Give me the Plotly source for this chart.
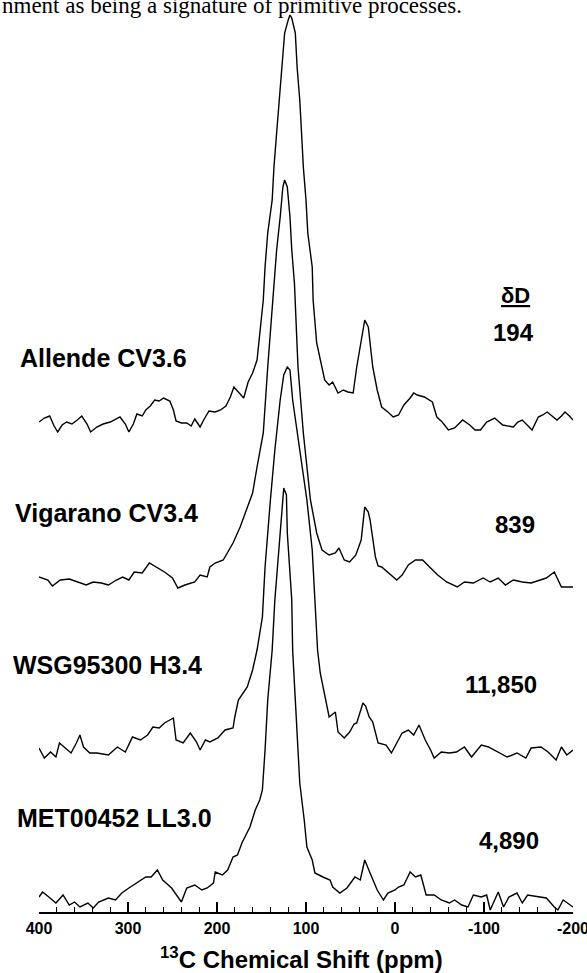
import plotly.graph_objects as go

# 13C NMR spectra (ppm, intensity in arbitrary units relative to each baseline)
ALLENDE = [(400,3),(394,7),(388,9),(383,-1),(379,-7),(374,0),(369,3),(363,1),(357,5),(352,9),(346,1),(342,-7),(335,-2),(328,1),(320,3),(315,5),(309,8),(303,1),(299,-7),(294,1),(290,11),(284,9),(280,15),(275,19),(270,25),(265,24),(260,27),(253,24),(249,15),(246,4),(240,2),(234,2),(229,-1),(225,6),(219,-2),(215,5),(209,14),(202,13),(196,15),(190,19),(185,28),(181,38),(178,35),(173,31),(170,27),(165,43),(160,52),(155,65),(152,92),(148,125),(146,158),(143,192),(138,225),(136,258),(133,292),(130,325),(127,358),(124,392),(120,405),(118,410),(116,407),(112,392),(110,358),(107,325),(105,292),(103,258),(100,225),(98,192),(93,158),(92,125),(88,82),(82,58),(79,45),(74,40),(70,43),(64,32),(58,35),(53,33),(47,32),(43,58),(39,80),(37,92),(34,105),(30,98),(28,80),(25,58),(20,35),(15,18),(8,13),(2,8),(-4,10),(-10,20),(-17,27),(-21,32),(-25,30),(-33,28),(-42,23),(-47,8),(-53,3),(-60,-5),(-67,-3),(-76,5),(-84,0),(-90,-5),(-96,-5),(-103,3),(-112,7),(-121,0),(-133,-2),(-138,3),(-143,5),(-148,0),(-154,-5),(-161,8),(-166,10),(-171,13),(-176,9),(-182,5),(-187,9),(-191,13),(-196,9),(-200,5)]

VIGARANO = [(400,3),(390,0),(385,-6),(376,0),(366,1),(356,-2),(347,-5),(339,-2),(330,-3),(322,-5),(313,0),(306,3),(299,0),(293,8),(284,7),(276,17),(267,12),(259,8),(250,2),(244,-8),(236,-5),(225,-2),(219,5),(211,3),(208,13),(202,17),(193,20),(182,37),(174,53),(166,73),(160,87),(155,113),(148,147),(143,213),(140,250),(137,290),(133,330),(129,363),(126,393),(124,400),(121,393),(118,363),(116,330),(113,297),(111,250),(109,213),(103,147),(95,80),(88,47),(82,30),(74,25),(67,27),(63,32),(57,20),(51,18),(44,25),(38,40),(34,73),(30,68),(28,60),(22,23),(19,14),(15,13),(7,7),(-2,0),(-8,5),(-15,15),(-23,20),(-31,20),(-40,12),(-48,5),(-58,-2),(-70,-7),(-78,-2),(-88,-3),(-99,2),(-107,-2),(-116,2),(-124,-5),(-133,0),(-143,-2),(-153,-3),(-162,0),(-170,2),(-179,8),(-187,-7),(-200,-7)]

WSG95300 = [(400,2),(394,-8),(387,-2),(381,-7),(377,7),(371,2),(364,-3),(358,7),(354,15),(350,3),(343,-3),(335,-3),(322,-5),(312,3),(303,-2),(295,13),(286,10),(278,15),(272,23),(265,22),(259,27),(249,32),(246,10),(238,7),(230,17),(223,8),(219,0),(213,10),(208,8),(199,12),(191,20),(182,22),(180,33),(176,50),(171,57),(166,63),(160,80),(155,100),(149,133),(146,183),(140,250),(135,300),(129,350),(125,375),(121,383),(118,380),(115,350),(107,300),(99,250),(93,200),(90,150),(87,100),(84,77),(79,53),(74,33),(67,38),(64,18),(57,12),(51,18),(46,26),(43,27),(36,47),(33,44),(29,33),(25,28),(19,7),(10,5),(4,-3),(-3,8),(-8,17),(-15,20),(-21,15),(-27,25),(-34,10),(-40,0),(-44,-8),(-52,-2),(-61,-3),(-69,-2),(-78,3),(-86,-7),(-97,5),(-105,3),(-116,-2),(-126,-7),(-137,-3),(-147,-8),(-153,2),(-164,3),(-172,-2),(-181,-10),(-187,3),(-193,-5),(-200,0)]

MET00452 = [(400,3),(396,8),(389,3),(381,-3),(373,5),(366,-5),(360,-2),(354,-7),(345,-3),(339,-8),(333,-2),(322,2),(314,0),(307,7),(299,12),(288,18),(280,23),(274,23),(267,30),(261,20),(251,12),(240,-2),(234,12),(225,15),(217,10),(211,12),(204,17),(202,28),(194,25),(188,30),(182,43),(177,45),(172,57),(163,73),(157,90),(152,100),(149,110),(146,150),(143,200),(138,250),(135,300),(129,367),(127,395),(125,412),(122,405),(121,367),(116,300),(115,250),(112,200),(110,167),(107,117),(102,80),(99,53),(93,40),(90,27),(81,23),(73,20),(70,13),(62,7),(54,12),(45,23),(39,20),(34,40),(28,27),(20,10),(13,0),(8,7),(0,10),(-4,13),(-10,15),(-17,28),(-23,23),(-29,25),(-35,5),(-44,5),(-52,0),(-61,-3),(-67,0),(-75,-5),(-82,-7),(-88,5),(-97,3),(-103,5),(-107,-10),(-116,8),(-122,-7),(-128,3),(-137,7),(-143,-3),(-149,5),(-162,3),(-170,2),(-179,-7),(-183,-10),(-189,0),(-196,-5),(-200,-7)]

SAMPLES = ["Allende CV3.6", "Vigarano CV3.4", "WSG95300 H3.4", "MET00452 LL3.0"]
DELTA_D = ["194", "839", "11,850", "4,890"]
OFFSETS = [487, 332, 162, 12]
SPECTRA = [ALLENDE, VIGARANO, WSG95300, MET00452]

TICK_VALS = [400, 300, 200, 100, 0, -100, -200]
TICK_TEXT = ["400", "300", "200", "100", "0", "-100", "-200"]

SANS = "Liberation Sans, Arial, Helvetica, sans-serif"
SERIF = "Liberation Serif, Times New Roman, serif"

fig = go.Figure()
for spec, off in zip(SPECTRA, OFFSETS):
    fig.add_trace(go.Scatter(
        x=[p for p, _ in spec],
        y=[v + off for _, v in spec],
        mode="lines",
        line=dict(color="black", width=1.4),
        showlegend=False,
        hoverinfo="skip",
    ))

fig.update_layout(
    width=587, height=973, autosize=False,
    margin=dict(l=39, r=14, t=0, b=61, autoexpand=False),
    paper_bgcolor="white", plot_bgcolor="white",
    xaxis=dict(
        range=[400, -200], showgrid=False, zeroline=False, automargin=False,
        showline=True, linecolor="black", linewidth=1.5,
        ticks="inside", ticklen=10, tickwidth=1.3, tickcolor="black",
        tickmode="array", tickvals=TICK_VALS, ticktext=TICK_TEXT,
        tickfont=dict(family=SANS, size=16, color="black", weight="bold"),
        ticklabelstandoff=1, ticklabeloverflow="allow",
        minor=dict(tickmode="linear", tick0=0, dtick=20, ticks="inside",
                   ticklen=5, tickwidth=1.3, tickcolor="black"),
    ),
    yaxis=dict(range=[0, 912], visible=False, automargin=False),
)

def px_x(px):
    return (px - 39) / 534.0

def px_y(py):
    return (912 - py) / 912.0

anns = []
# cropped caption text at the top (serif, from the surrounding document)
anns.append(dict(text="nment as being a signature of primitive processes.",
                 x=px_x(0), y=px_y(5), xanchor="left", yanchor="middle",
                 font=dict(family=SERIF, size=23, color="black")))

label_pos = [(18, 358), (13, 513), (11, 665), (15, 818)]
for name, (lx, ly) in zip(SAMPLES, label_pos):
    anns.append(dict(text=name, x=px_x(lx), y=px_y(ly), xanchor="left", yanchor="middle",
                     font=dict(family=SANS, size=25, color="black", weight="bold")))

anns.append(dict(text="<u>δD</u>", x=px_x(515), y=px_y(295), xanchor="center", yanchor="middle",
                 font=dict(family=SANS, size=22, color="black", weight="bold")))
val_pos = [(536, 332), (537, 525), (539, 684), (541, 840)]
for val, (vx, vy) in zip(DELTA_D, val_pos):
    anns.append(dict(text=val, x=px_x(vx), y=px_y(vy), xanchor="right", yanchor="middle",
                     font=dict(family=SANS, size=24, color="black", weight="bold")))

anns.append(dict(text="<sup>13</sup>C Chemical Shift (ppm)", x=px_x(301), y=px_y(958),
                 xanchor="center", yanchor="middle",
                 font=dict(family=SANS, size=24, color="black", weight="bold")))

for a in anns:
    a.update(xref="paper", yref="paper", showarrow=False)
fig.update_layout(annotations=anns)

fig.write_html("out.html", config={"displayModeBar": False, "staticPlot": True},
               post_script="document.body.style.margin='0';document.body.style.padding='0';")
